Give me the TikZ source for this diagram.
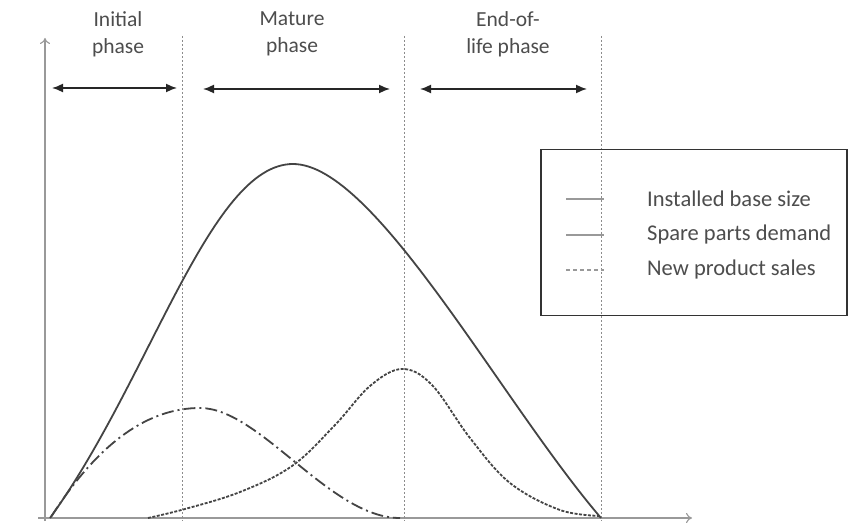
\documentclass[tikz,border=0pt]{standalone}
\usepackage{fontspec}
\setmainfont{Carlito}
\usetikzlibrary{arrows.meta}
\definecolor{txt}{HTML}{4D4D4D}
\definecolor{crv}{HTML}{444444}
\begin{document}
\begin{tikzpicture}[x=1pt,y=-1pt,
  lbl/.style={text=txt,font=\fontsize{21.5}{27}\selectfont,align=center,inner sep=0pt},
  legtxt/.style={text=txt,font=\fontsize{22.5}{24}\selectfont,anchor=west,inner sep=0pt},
  axis/.style={draw=gray!80,line width=1.1pt,-{To[length=6pt,width=10pt]}},
  sep/.style={draw=gray!90,line width=0.9pt,dash pattern=on 2pt off 2pt},
  span/.style={draw=black!85,line width=1.6pt,{Latex[length=11pt,width=9pt]}-{Latex[length=11pt,width=9pt]}},
  solidc/.style={draw=crv,line width=1.8pt},
  dashdotc/.style={draw=crv,line width=1.8pt,dash pattern=on 12pt off 4pt on 2pt off 4pt},
  dottedc/.style={draw=crv,line width=1.8pt,dash pattern=on 3pt off 1.5pt},
  legbox/.style={draw=black!80,line width=1.5pt}]
\useasboundingbox (0,0) rectangle (848,526);
\fill[white] (0,0) rectangle (848,526);

% axes
\coordinate (o) at (45,521);
\coordinate (ytop) at (45,38);
\coordinate (xl) at (38,518);
\coordinate (xr) at (692,518);
\draw[axis] (o) -- (ytop);
\draw[axis] (xl) -- (xr);

% phase separators
\foreach \x/\n in {182/a,404/b,601/c}{
  \coordinate (\n t) at (\x,36);
  \coordinate (\n b) at (\x,521);
  \draw[sep] (\n t) -- (\n b);
}

% phase labels
\node[lbl] (l1) at (118,34) {Initial\\phase};
\node[lbl] (l2) at (292,34) {Mature\\phase};
\node[lbl] (l3) at (508,34) {End-of-\\life phase};

% phase arrows
\coordinate (a1) at (52,88); \coordinate (a2) at (177,88);
\coordinate (b1) at (203,89); \coordinate (b2) at (390,89);
\coordinate (c1) at (420,89); \coordinate (c2) at (587,89);
\draw[span] (a1) -- (a2);
\draw[span] (b1) -- (b2);
\draw[span] (c1) -- (c2);

% installed base size
\draw[solidc] (50,518) .. controls (150,380) and (210,164) .. (293,164)
  .. controls (375,164) and (500,400) .. (601,518);

% new product sales (dash-dot)
\draw[dashdotc] (51,517) .. controls (100,440) and (150,408) .. (200,408)
  .. controls (260,408) and (330,518) .. (400,518);

% spare parts demand (dotted)
\draw[dottedc] plot[smooth,tension=0.6] coordinates {(148,518) (185,509) (240,492) (292,466) (335,425) (370,386) (402,369) (432,385) (470,438) (510,483) (560,510) (601,516)};

% legend
\node[legbox,minimum width=306pt,minimum height=166pt,anchor=north west,inner sep=0pt] (leg) at (540,149) {};
\coordinate (m1a) at (566,199); \coordinate (m1b) at (604,199);
\coordinate (m2a) at (566,235); \coordinate (m2b) at (604,235);
\coordinate (m3a) at (566,270); \coordinate (m3b) at (604,270);
\draw[draw=gray!80,line width=1.2pt] (m1a) -- (m1b);
\draw[draw=gray!80,line width=1.2pt] (m2a) -- (m2b);
\draw[draw=gray!80,line width=1.2pt,dash pattern=on 4pt off 3pt] (m3a) -- (m3b);
\node[legtxt] (t1) at (647,199) {Installed base size};
\node[legtxt] (t2) at (647,235) {Spare parts demand};
\node[legtxt] (t3) at (647,270) {New product sales};
\end{tikzpicture}
\end{document}
